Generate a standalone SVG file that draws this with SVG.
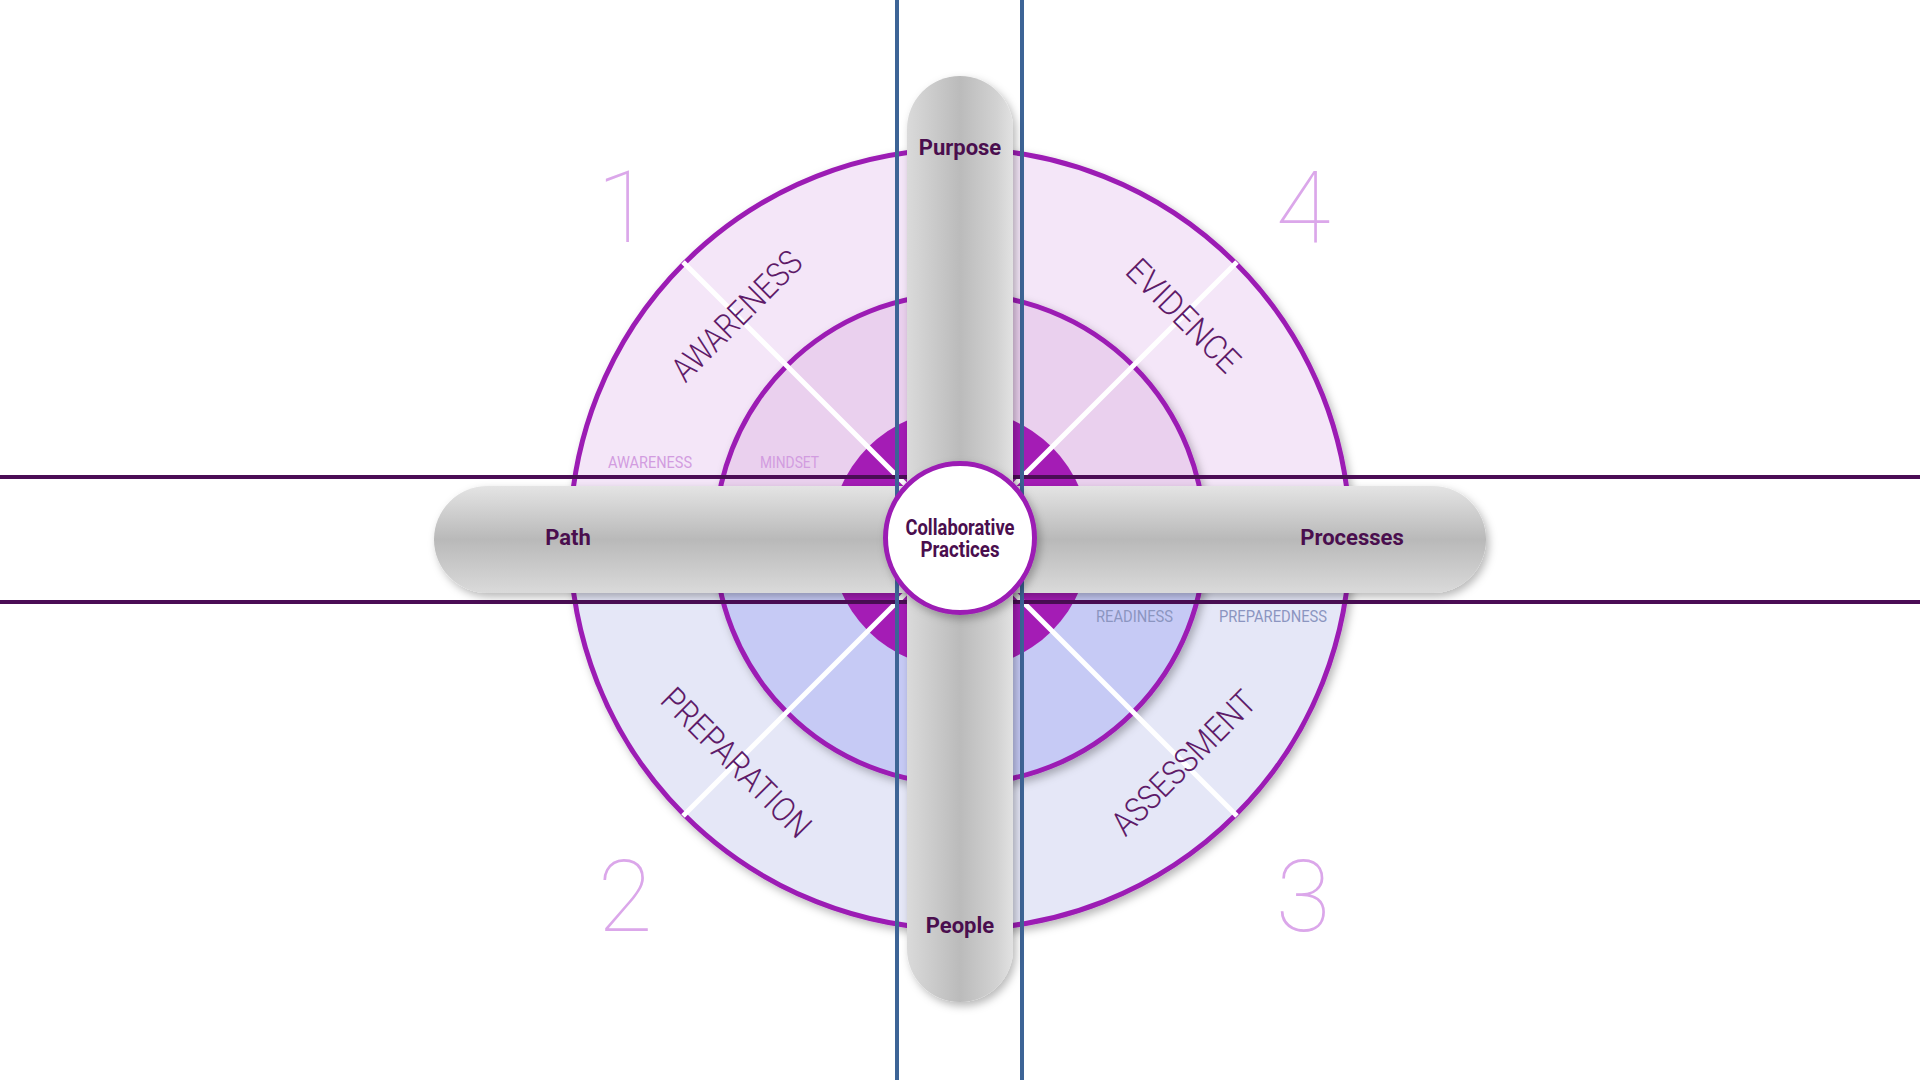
<svg xmlns="http://www.w3.org/2000/svg" width="1920" height="1080" viewBox="0 0 1920 1080">
<style>
.ring{fill:none;stroke:#9c1db4;stroke-width:5}
.diag{stroke:#ffffff;stroke-width:5}
.big{font-family:Roboto,"Liberation Sans",sans-serif;font-weight:300;font-size:34px;fill:#5e1a68}
.small{font-family:Roboto,"Liberation Sans",sans-serif;font-weight:400;font-size:16px}
.num{font-family:Roboto,Lato,"Liberation Sans",sans-serif;font-weight:100;font-size:100px;fill:#dba7ea}
.lbl{font-family:Roboto,"Liberation Sans",sans-serif;font-weight:700;font-size:22px;fill:#4a0e4e;text-anchor:middle}
.hline{stroke:#4b0d55;stroke-width:4}
.vline{stroke:#3d6496;stroke-width:4}
</style>
<defs>
<filter id="sh" x="-10%" y="-10%" width="125%" height="125%">
<feDropShadow dx="3" dy="4" stdDeviation="4" flood-color="#000" flood-opacity="0.28"/>
</filter>
<linearGradient id="gh" x1="0" y1="0" x2="0" y2="1">
<stop offset="0" stop-color="#e4e4e4"/>
<stop offset="0.5" stop-color="#b9b9b9"/>
<stop offset="1" stop-color="#dadada"/>
</linearGradient>
<linearGradient id="gv" x1="0" y1="0" x2="1" y2="0">
<stop offset="0" stop-color="#dadada"/>
<stop offset="0.5" stop-color="#bbbbbb"/>
<stop offset="0.85" stop-color="#d2d2d2"/>
<stop offset="1" stop-color="#e2e2e2"/>
</linearGradient>
</defs>
<rect width="1920" height="1080" fill="#ffffff"/>

<g id="rings">
<g filter="url(#sh)">
<path d="M570 539 A390 390 0 0 1 1350 539 Z" fill="#f4e6f8"/>
<path d="M570 539 A390 390 0 0 0 1350 539 Z" fill="#e5e7f7"/>
<circle cx="960" cy="539" r="390" class="ring"/>
</g>
<g filter="url(#sh)">
<path d="M715 539 A245 245 0 0 1 1205 539 Z" fill="#ead0ee"/>
<path d="M715 539 A245 245 0 0 0 1205 539 Z" fill="#c6caf5"/>
<circle cx="960" cy="539" r="245" class="ring"/>
</g>
<circle cx="960" cy="539" r="130" fill="#a41cb5"/>
<line class="diag" x1="960" y1="539" x2="683" y2="262"/>
<line class="diag" x1="960" y1="539" x2="1237" y2="262"/>
<line class="diag" x1="960" y1="539" x2="683" y2="816"/>
<line class="diag" x1="960" y1="539" x2="1237" y2="816"/>
</g>

<g id="quadrant-1">
<text class="num" x="624" y="242" text-anchor="middle">1</text>
<text class="big" transform="translate(736.5 315.5) rotate(-45)" y="12" text-anchor="middle" textLength="168" lengthAdjust="spacingAndGlyphs">AWARENESS</text>
<text class="small" x="608" y="468" fill="#d29ce0" textLength="84" lengthAdjust="spacingAndGlyphs">AWARENESS</text>
<text class="small" x="760" y="468" fill="#d29ce0" textLength="59" lengthAdjust="spacingAndGlyphs">MINDSET</text>
</g>
<g id="quadrant-4">
<text class="num" x="1303" y="242" text-anchor="middle">4</text>
<text class="big" transform="translate(1183.5 315.5) rotate(45)" y="12" text-anchor="middle" textLength="145" lengthAdjust="spacingAndGlyphs">EVIDENCE</text>
</g>
<g id="quadrant-2">
<text class="num" x="625" y="931" text-anchor="middle">2</text>
<text class="big" transform="translate(736.5 762.5) rotate(45)" y="12" text-anchor="middle" textLength="196" lengthAdjust="spacingAndGlyphs">PREPARATION</text>
</g>
<g id="quadrant-3">
<text class="num" x="1303" y="931" text-anchor="middle">3</text>
<text class="big" transform="translate(1183.5 762.5) rotate(-45)" y="12" text-anchor="middle" textLength="188" lengthAdjust="spacingAndGlyphs">ASSESSMENT</text>
<text class="small" x="1096" y="622" fill="#8b95c0" textLength="77" lengthAdjust="spacingAndGlyphs">READINESS</text>
<text class="small" x="1219" y="622" fill="#8b95c0" textLength="108" lengthAdjust="spacingAndGlyphs">PREPAREDNESS</text>
</g>

<g id="connectors">
<line class="hline" x1="0" y1="477" x2="1920" y2="477"/>
<line class="hline" x1="0" y1="602" x2="1920" y2="602"/>
</g>

<g id="axis-horizontal">
<rect x="434" y="486" width="1052" height="107" rx="53.5" fill="url(#gh)" filter="url(#sh)"/>
</g>

<g id="connectors-vertical">
<line class="vline" x1="897" y1="0" x2="897" y2="1080"/>
<line class="vline" x1="1022" y1="0" x2="1022" y2="1080"/>
</g>

<g id="axis-vertical">
<rect x="907" y="76" width="106" height="926" rx="53" fill="url(#gv)" filter="url(#sh)"/>
</g>

<g id="center">
<circle cx="960" cy="538" r="74.5" fill="#ffffff" stroke="#9c1db4" stroke-width="5" filter="url(#sh)"/>
<text class="lbl" x="960" y="535" font-size="16.5" textLength="109" lengthAdjust="spacingAndGlyphs">Collaborative</text>
<text class="lbl" x="960" y="557" font-size="16.5" textLength="79" lengthAdjust="spacingAndGlyphs">Practices</text>
</g>

<g id="purpose"><text class="lbl" x="960" y="155">Purpose</text></g>
<g id="people"><text class="lbl" x="960" y="933">People</text></g>
<g id="path"><text class="lbl" x="568" y="545">Path</text></g>
<g id="processes"><text class="lbl" x="1352" y="545">Processes</text></g>
</svg>
